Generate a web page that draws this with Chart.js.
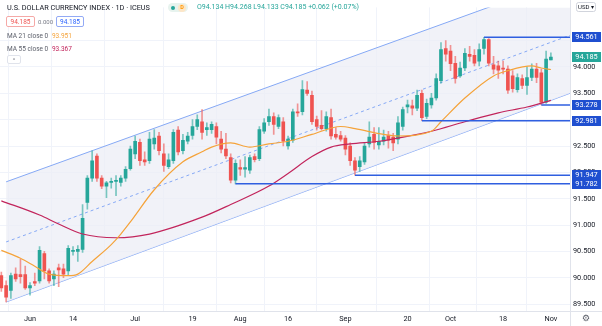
<!DOCTYPE html>
<html>
<head>
<meta charset="utf-8">
<script src="https://cdn.jsdelivr.net/npm/chart.js@4.4.0/dist/chart.umd.min.js"></script>
<style>
html, body { margin: 0; padding: 0; background: #fff; }
#wrap { position: relative; width: 602px; height: 326px; font-family: Roboto, "Noto Sans", sans-serif; }
#wrap canvas { position: absolute; left: 0; top: 0; }
.lg { position: absolute; line-height: 1; white-space: nowrap; }
.bx { position: absolute; display: flex; align-items: center; justify-content: center; box-sizing: border-box; border-radius: 2px; background: #fff; font-size: 6.5px; }
</style>
</head>
<body>
<div id="wrap">
  <canvas id="c" width="602" height="326"></canvas>
  <div class="lg" style="left:7px;top:3.6px;font-size:7.3px;color:#131722;">U.S. DOLLAR CURRENCY INDEX · 1D · ICEUS</div>
  <div class="lg" style="left:168px;top:3px;width:20px;height:9px;border-radius:5px;background:#e7f3ee;"></div>
  <div class="lg" style="left:171px;top:5.5px;width:4px;height:4px;border-radius:2px;background:#26a69a;"></div>
  <div class="lg" style="left:178px;top:3.5px;width:8px;height:8px;border-radius:4px;background:#fde6c8;color:#ff9800;font-size:5.5px;display:flex;align-items:center;justify-content:center;font-weight:bold;">D</div>
  <div class="lg" style="left:197px;top:4px;font-size:7px;color:#26a69a;">O94.134 H94.268 L94.133 C94.185 +0.062 (+0.07%)</div>
  <div class="bx" style="left:6px;top:16px;width:29px;height:11px;border:1px solid #f5a9a7;color:#ef5350;">94.185</div>
  <div class="lg" style="left:38px;top:18.5px;font-size:6px;color:#787b86;">0.000</div>
  <div class="bx" style="left:56px;top:16px;width:28px;height:11px;border:1px solid #93aaf5;color:#2962ff;">94.185</div>
  <div class="lg" style="left:7px;top:32.8px;font-size:6.5px;color:#5d606b;">MA 21 close 0 <span style="color:#f5a33a;margin-left:2px;">93.951</span></div>
  <div class="lg" style="left:7px;top:45.8px;font-size:6.5px;color:#5d606b;">MA 55 close 0 <span style="color:#c2255c;margin-left:2px;">93.367</span></div>
  <div class="bx" style="left:7px;top:55px;width:14px;height:9px;border:1px solid #e0e3eb;color:#787b86;font-size:6px;">^</div>
</div>
<script>
// daily candles, index 0 = 1 Jun 2021 (first one is 24 May)
const firstIdx = -6;
const openP = [
  90.04, 89.85, 89.76, 90.07, 90.06, 90.06,
  89.81, 89.93, 89.94, 90.46, 90.13, 89.98, 90.19, 90.17, 90.13, 90.50,
  90.50, 90.54, 91.43, 91.89, 92.31, 91.89, 91.74, 91.81, 91.83, 91.81,
  91.89, 92.07, 92.35, 92.57, 92.24, 92.22, 92.54, 92.69, 92.35, 92.11,
  92.22, 92.80, 92.41, 92.59, 92.70, 92.87, 92.96, 92.81, 92.81, 92.87,
  92.63, 92.44, 92.28, 91.85, 92.09, 92.06, 92.04, 92.30, 92.26, 92.78,
  92.96, 93.06, 92.87, 92.96, 92.50, 92.61, 93.15, 93.15, 93.56, 93.46,
  93.00, 92.89, 92.83, 93.04, 92.72, 92.70, 92.65, 92.50, 92.22, 92.11,
  92.20, 92.54, 92.72, 92.52, 92.59, 92.70, 92.67, 92.63, 92.87, 93.24,
  93.26, 93.22, 93.50, 93.06, 93.28, 93.41, 93.74, 94.35, 94.30, 94.07,
  93.83, 93.98, 94.24, 94.22, 94.11, 94.35, 94.52, 94.04, 94.02, 93.98,
  93.96, 93.83, 93.57, 93.78, 93.65, 93.80, 93.96, 93.89, 93.33, 94.134
];
const highP = [
  90.11, 89.94, 90.09, 90.19, 90.35, 90.22,
  89.91, 90.09, 90.59, 90.50, 90.17, 90.13, 90.26, 90.26, 90.61, 90.59,
  90.61, 91.39, 91.94, 92.41, 92.35, 91.94, 91.83, 91.89, 91.94, 91.94,
  92.11, 92.50, 92.69, 92.63, 92.39, 92.76, 92.81, 92.76, 92.54, 92.35,
  92.81, 92.87, 92.72, 92.76, 93.00, 93.09, 93.19, 92.94, 92.96, 92.94,
  92.78, 92.74, 92.35, 92.24, 92.24, 92.30, 92.33, 92.35, 92.87, 93.02,
  93.20, 93.13, 93.09, 93.04, 92.69, 93.20, 93.30, 93.74, 93.72, 93.54,
  93.07, 93.17, 93.15, 93.20, 92.85, 92.78, 92.70, 92.56, 92.28, 92.30,
  92.57, 92.96, 92.85, 92.85, 92.80, 92.78, 92.74, 93.06, 93.24, 93.37,
  93.37, 93.56, 93.56, 93.39, 93.50, 93.87, 94.46, 94.50, 94.41, 94.20,
  94.09, 94.35, 94.39, 94.33, 94.44, 94.561, 94.54, 94.20, 94.11, 94.11,
  94.02, 93.93, 93.87, 93.85, 94.00, 94.06, 94.07, 93.96, 94.30, 94.268
];
const lowP = [
  89.74, 89.54, 89.61, 89.93, 89.90, 89.78,
  89.67, 89.85, 89.90, 89.98, 89.90, 89.85, 89.83, 90.00, 90.04, 90.43,
  90.31, 90.48, 91.30, 91.83, 91.83, 91.69, 91.52, 91.70, 91.56, 91.74,
  91.83, 92.04, 92.26, 92.13, 92.13, 92.17, 92.44, 92.33, 92.02, 92.07,
  92.17, 92.33, 92.35, 92.54, 92.63, 92.81, 92.63, 92.70, 92.74, 92.54,
  92.37, 92.26, 91.80, 91.782, 91.94, 91.91, 91.98, 92.20, 92.22, 92.74,
  92.89, 92.72, 92.83, 92.50, 92.44, 92.57, 93.06, 93.09, 93.46, 92.91,
  92.80, 92.80, 92.78, 92.63, 92.63, 92.59, 92.33, 92.13, 91.947, 92.02,
  92.15, 92.48, 92.44, 92.44, 92.52, 92.46, 92.41, 92.54, 92.80, 93.13,
  93.09, 93.17, 92.981, 93.02, 93.22, 93.37, 93.69, 94.11, 93.93, 93.69,
  93.80, 93.93, 94.11, 94.02, 94.02, 94.24, 94.02, 93.87, 93.78, 93.87,
  93.50, 93.52, 93.52, 93.59, 93.48, 93.74, 93.70, 93.278, 93.31, 94.133
];
const closeP = [
  89.81, 89.63, 90.04, 89.98, 90.02, 89.81,
  89.85, 89.90, 90.52, 90.13, 89.94, 90.07, 90.15, 90.07, 90.56, 90.52,
  90.54, 91.13, 91.89, 92.22, 91.89, 91.74, 91.80, 91.83, 91.85, 91.89,
  92.06, 92.44, 92.59, 92.22, 92.20, 92.63, 92.65, 92.41, 92.13, 92.24,
  92.76, 92.39, 92.61, 92.69, 92.87, 93.00, 92.76, 92.85, 92.91, 92.67,
  92.44, 92.31, 91.85, 92.17, 92.06, 92.09, 92.28, 92.24, 92.81, 92.94,
  93.06, 92.91, 93.04, 92.59, 92.63, 93.15, 93.13, 93.57, 93.50, 92.96,
  92.87, 92.83, 93.06, 92.69, 92.67, 92.63, 92.44, 92.22, 92.04, 92.22,
  92.50, 92.67, 92.57, 92.59, 92.67, 92.61, 92.56, 92.94, 93.19, 93.28,
  93.22, 93.46, 93.04, 93.31, 93.41, 93.78, 94.33, 94.24, 94.06, 93.78,
  93.98, 94.26, 94.20, 94.07, 94.33, 94.52, 94.07, 93.96, 93.94, 93.96,
  93.56, 93.59, 93.80, 93.65, 93.80, 93.96, 93.80, 93.33, 94.15, 94.185
];

// moving averages
const ma21Idx = [-6, -2, 1, 4, 8, 10, 13, 17, 19, 21, 26, 32, 36, 38, 42, 46, 50, 54, 59, 65, 68, 74, 77, 84, 86, 91, 97, 100, 105, 107, 109];
const ma21Val = [90.52, 90.37, 90.22, 90.07, 90.04, 90.07, 90.31, 90.63, 90.83, 91.06, 91.67, 92.20, 92.39, 92.48, 92.56, 92.48, 92.54, 92.59, 92.72, 92.87, 92.83, 92.72, 92.69, 92.78, 92.96, 93.41, 93.83, 93.93, 94.02, 93.98, 93.951];
const ma55Idx = [-6, 2, 6, 11, 18, 25, 36, 42, 50, 54, 59, 63, 67, 73, 77, 84, 91, 98, 104, 109];
const ma55Val = [91.46, 91.19, 91.02, 90.83, 90.76, 90.83, 91.15, 91.39, 91.74, 91.98, 92.30, 92.48, 92.54, 92.59, 92.65, 92.78, 92.96, 93.13, 93.24, 93.367];

// parallel channel
const chanIdx = [-5, 113];
const chanUpper = [91.82, 95.69];
const chanMid = [90.68, 94.60];
const chanLower = [89.54, 93.50];

// horizontal levels
const lvlVals = [94.561, 93.278, 92.981, 91.947, 91.782];
const lvlFrom = [95, 107, 82, 68, 43];
const lastClose = 94.185;

const tickIdx = [0, 9, 22, 34, 44, 54, 66, 79, 88, 99, 109];
const tickLab = ['Jun', '14', 'Jul', '19', 'Aug', '16', 'Sep', '20', 'Oct', '18', 'Nov'];
const yTicks = [89.5, 90, 90.5, 91, 91.5, 92, 92.5, 93, 93.5, 94, 94.5];

const xMin = -6.28, xMax = 113;
const upCol = '#26a69a', dnCol = '#ef5350';
const chanCol = '#86a9f5';
const lvlCol = '#2f5fe0';
const font = 'Roboto, "Noto Sans", sans-serif';

const isUp = openP.map((o, k) => closeP[k] >= o);
const bodies = openP.map((o, k) => ({x: firstIdx + k, y: [o, closeP[k]]}));
const wicks = lowP.map((l, k) => ({x: firstIdx + k, y: [l, highP[k]]}));
const pts = (xs, ys) => xs.map((x, k) => ({x: x, y: ys[k]}));

const datasets = [
  {type: 'line', data: pts(chanIdx, chanUpper), borderColor: chanCol, borderWidth: 1, pointRadius: 0,
   fill: '+1', backgroundColor: 'rgba(236,238,246,0.75)', order: 10},
  {type: 'line', data: pts(chanIdx, chanLower), borderColor: chanCol, borderWidth: 1, pointRadius: 0, fill: false, order: 10},
  {type: 'line', data: pts(chanIdx, chanMid), borderColor: chanCol, borderWidth: 1, borderDash: [3, 3], pointRadius: 0, fill: false, order: 9},
  {type: 'bar', data: wicks, backgroundColor: isUp.map(u => u ? 'rgba(38,166,154,0.6)' : 'rgba(239,83,80,0.6)'),
   barThickness: 1, grouped: false, order: 6},
  {type: 'bar', data: bodies, backgroundColor: isUp.map(u => u ? upCol : dnCol),
   barThickness: 3, minBarLength: 1, grouped: false, order: 5},
  {type: 'line', data: pts(ma55Idx, ma55Val), borderColor: '#c2255c', borderWidth: 1.2, pointRadius: 0,
   cubicInterpolationMode: 'monotone', fill: false, order: 4},
  {type: 'line', data: pts(ma21Idx, ma21Val), borderColor: '#f5a33a', borderWidth: 1.2, pointRadius: 0,
   cubicInterpolationMode: 'monotone', fill: false, order: 3}
];
lvlVals.forEach((v, k) => {
  datasets.push({type: 'line', data: [{x: lvlFrom[k], y: v}, {x: xMax, y: v}], borderColor: lvlCol,
    borderWidth: 1.5, pointRadius: 0, fill: false, order: 2});
});

// price scale boxes, separators, buttons
const overlay = {
  id: 'overlay',
  afterDraw(chart) {
    const ctx = chart.ctx, a = chart.chartArea, ys = chart.scales.y;
    ctx.save();
    ctx.strokeStyle = '#e0e3eb';
    ctx.lineWidth = 1;
    ctx.beginPath();
    ctx.moveTo(a.right + 0.5, 0); ctx.lineTo(a.right + 0.5, 326);
    ctx.moveTo(0, a.bottom + 0.5); ctx.lineTo(602, a.bottom + 0.5);
    ctx.stroke();

    const box = (v, col) => {
      const y = Math.round(ys.getPixelForValue(v));
      ctx.fillStyle = col;
      ctx.fillRect(a.right + 2, y - 5, 602 - a.right - 3, 10);
      ctx.fillStyle = '#fff';
      ctx.font = '7.3px ' + font;
      ctx.textAlign = 'center';
      ctx.textBaseline = 'middle';
      ctx.fillText(v.toFixed(3), (a.right + 602) / 2 + 0.5, y + 0.5);
    };
    lvlVals.forEach(v => box(v, '#1f4fd0'));
    box(lastClose, upCol);

    // currency button
    ctx.strokeStyle = '#d1d4dc';
    ctx.fillStyle = '#fff';
    ctx.beginPath();
    ctx.roundRect(576.5, 2.5, 19, 9, 2);
    ctx.fill(); ctx.stroke();
    ctx.fillStyle = '#131722';
    ctx.font = '6px ' + font;
    ctx.textAlign = 'center';
    ctx.fillText('USD ▾', 586, 7.5);
    // settings gear
    ctx.fillStyle = '#5d606b';
    ctx.font = '9px "DejaVu Sans"';
    ctx.fillText('⚙', 586, 318.5);
    ctx.restore();
  }
};

new Chart(document.getElementById('c'), {
  type: 'bar',
  data: {datasets: datasets},
  options: {
    responsive: false,
    animation: false,
    devicePixelRatio: 1,
    layout: {padding: 0},
    plugins: {legend: {display: false}, tooltip: {enabled: false}},
    scales: {
      x: {
        type: 'linear', min: xMin, max: xMax, offset: false,
        grid: {color: '#f0f3fa', drawTicks: false},
        border: {display: false},
        afterBuildTicks: ax => { ax.ticks = tickIdx.map(v => ({value: v})); },
        afterFit: ax => { ax.height = 15; },
        ticks: {callback: (v, i) => tickLab[i], font: {family: font, size: 7.3}, color: '#131722',
                padding: 3.5, maxRotation: 0, autoSkip: false}
      },
      y: {
        position: 'right', min: 89.37, max: 95.13,
        grid: {color: '#f0f3fa', drawTicks: false},
        border: {display: false},
        afterBuildTicks: ax => { ax.ticks = yTicks.map(v => ({value: v})); },
        afterFit: ax => { ax.width = 32; },
        ticks: {callback: v => v.toFixed(3), font: {family: font, size: 7.3}, color: '#131722', padding: 3}
      }
    }
  },
  plugins: [overlay]
});
</script>
</body>
</html>
